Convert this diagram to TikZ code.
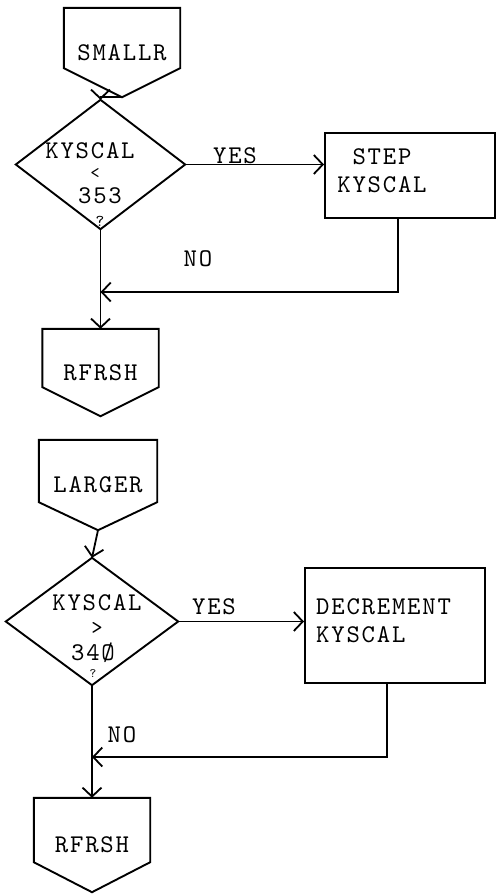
\documentclass[tikz,border=0pt]{standalone}
\usepackage{fontspec}
\usetikzlibrary{arrows.meta,calc}
\newfontfamily\twfam{lmmono10-regular.otf}[LetterSpace=7]
\newcommand\twfont{\twfam\fontsize{25.5}{28}\selectfont}
\newcommand\pentout[2]{\draw[shapeline] (#1.north west) -- (#1.north east) -- ([yshift=#2]#1.south east) -- (#1.south) -- ([yshift=#2]#1.south west) -- cycle;}
\newcommand\diamout[1]{\draw[shapeline] (#1.north) -- (#1.east) -- (#1.south) -- (#1.west) -- cycle;}
\tikzset{
  shapeline/.style={line width=1.9pt, line join=miter},
  conn/.style={line width=1.8pt},
  arr/.style={conn, -{Straight Barb[length=9pt,width=19pt,line width=1.8pt]}},
  frame/.style={draw=none, inner sep=0pt, font=\twfont},
  boxframe/.style={draw, line width=1.9pt, inner sep=0pt},
  lbl/.style={inner sep=0pt, font=\twfont},
}
\begin{document}
\begin{tikzpicture}[x=1pt,y=-1pt]
\useasboundingbox[fill=white] (0,0) rectangle (499,894);

% ---------- upper chart ----------
\node[frame, minimum width=116pt, minimum height=89pt] (s1) at (122,52.5) {SMALLR};
\pentout{s1}{29pt}

\node[frame, minimum width=169pt, minimum height=129pt] (d1) at (100.5,164.5) {};
\diamout{d1}
\node[lbl] (d1a) at (90,151) {KYSCAL};
\node[lbl, scale=0.7] (d1b) at (95,174) {<};
\node[lbl] (d1c) at (100,196) {353};
\node[lbl, scale=0.65] (d1d) at (100,221) {?};

\node[boxframe, minimum width=170pt, minimum height=85pt] (b1) at (410,175.5) {};
\node[lbl, align=center] (b1t) at (382,171) {STEP\\KYSCAL};

\node[frame, minimum width=116pt, minimum height=87pt] (r1) at (100.5,372.5) {RFRSH};
\pentout{r1}{29pt}

\draw[arr] (s1.south) -| (d1.north);
\draw[arr] (d1.east) -- (d1.east -| b1.west);
\node[lbl] (y1) at (235,156) {YES};
\coordinate (m1) at (100.5,292);
\draw[arr] ([xshift=-12pt]b1.south) |- (m1);
\node[lbl] (n1) at (198,259) {NO};
\draw[arr] (d1.south) -- (r1.north);

% ---------- lower chart ----------
\node[frame, minimum width=118pt, minimum height=90pt] (l1) at (98,485) {LARGER};
\pentout{l1}{28pt}

\node[frame, minimum width=172pt, minimum height=127pt] (d2) at (92,621.5) {};
\diamout{d2}
\node[lbl] (d2a) at (97,603) {KYSCAL};
\node[lbl, scale=0.85] (d2b) at (97,628) {>};
\node[lbl] (d2c) at (93,653) {34Ø};
\node[lbl, scale=0.5] (d2d) at (93,674) {?};

\node[boxframe, minimum width=180pt, minimum height=115pt] (b2) at (395,625.5) {};
\node[lbl, align=left, anchor=west] (b2t) at (316,621) {DECREMENT\\KYSCAL};

\node[frame, minimum width=116pt, minimum height=94pt] (r2) at (92,845) {RFRSH};
\pentout{r2}{30pt}

\draw[arr] (l1.south) -- (d2.north);
\draw[arr] (d2.east) -- (d2.east -| b2.west);
\node[lbl] (y2) at (214,607) {YES};
\coordinate (m2) at (92,757);
\draw[arr] ([xshift=-8pt]b2.south) |- (m2);
\node[lbl] (n2) at (122,735) {NO};
\draw[arr] (d2.south) -- (r2.north);
\end{tikzpicture}
\end{document}
